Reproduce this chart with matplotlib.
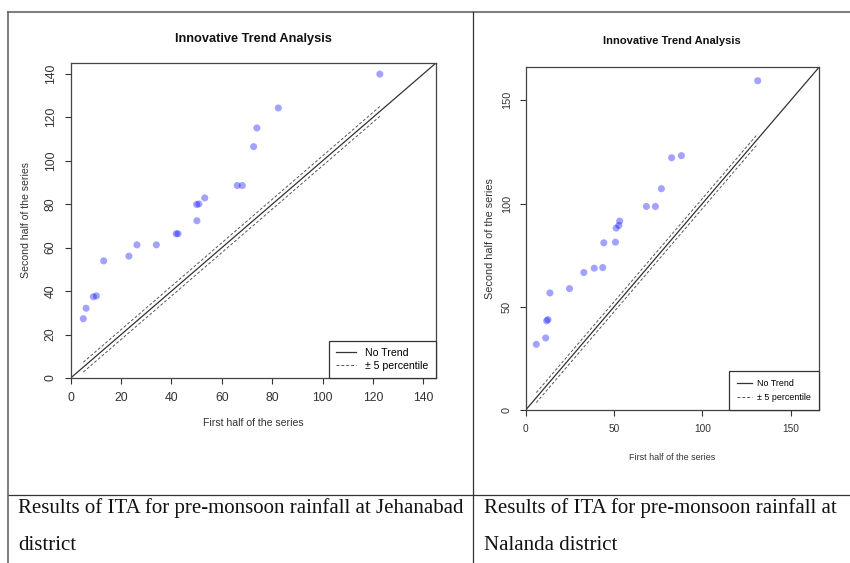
import numpy as np
import matplotlib
matplotlib.use('Agg')
import matplotlib.pyplot as plt
from matplotlib.lines import Line2D

plt.rcParams['font.family'] = ['Liberation Sans', 'DejaVu Sans']

# Jehanabad district, pre-monsoon rainfall (sorted halves)
jeh_first = [122.7, 82.4, 73.9, 72.6, 66.1, 68.1, 53.2, 50.9, 50.0, 50.1,
             41.9, 42.6, 34.0, 26.3, 23.1, 13.1, 10.2, 9.0, 6.1, 5.0]
jeh_second = [139.9, 124.3, 115.1, 106.5, 88.6, 88.6, 82.9, 80.1, 79.9, 72.4,
              66.4, 66.4, 61.3, 61.3, 56.1, 53.9, 37.8, 37.4, 32.1, 27.3]
jeh_lim = 145
jeh_ticks = [0, 20, 40, 60, 80, 100, 120, 140]

# Nalanda district
nal_first = [131.3, 88.1, 82.6, 76.8, 73.4, 68.3, 53.2, 52.7, 51.2, 50.8,
             44.2, 43.6, 38.8, 32.9, 24.8, 13.7, 12.6, 11.9, 11.3, 6.0]
nal_second = [159.5, 123.2, 122.2, 107.2, 98.6, 98.6, 91.5, 89.4, 88.1, 81.3,
              81.0, 69.0, 68.7, 66.6, 58.8, 56.7, 43.8, 43.2, 34.9, 31.8]
nal_lim = 166
nal_ticks = [0, 50, 100, 150]

title = 'Innovative Trend Analysis'
xlab = 'First half of the series'
ylab = 'Second half of the series'
captions = [['Results of ITA for pre-monsoon rainfall at Jehanabad', 'district'],
            ['Results of ITA for pre-monsoon rainfall at', 'Nalanda district']]

W, H = 850, 563
fig = plt.figure(figsize=(W/100, H/100), dpi=100)

def px(x0, y0, x1, y1):
    return [x0/W, 1-y1/H, (x1-x0)/W, (y1-y0)/H]

# fs = (xtick, ytick, title, xlabel, ylabel, legend)
def ita_panel(rect, first, second, lim, ticks, fs, title_y, xlab_y, ylab_x, leg_kw):
    ax = fig.add_axes(px(*rect))
    first = np.array(first)
    second = np.array(second)
    ax.scatter(first, second, s=26, color=(0, 0, 1, 0.36), edgecolors='none', zorder=3)
    ax.plot([0, lim], [0, lim], color='#333333', lw=0.9, label='No Trend')
    band = 0.05*first.mean()
    xs = np.array([first.min(), first.max()])
    ax.plot(xs, xs+band, color='#555555', lw=0.7, ls=(0, (3, 2)), label='\u00b1 5 percentile')
    ax.plot(xs, xs-band, color='#555555', lw=0.7, ls=(0, (3, 2)))
    ax.set_xlim(0, lim)
    ax.set_ylim(0, lim)
    ax.set_xticks(ticks)
    ax.set_yticks(ticks)
    ax.tick_params(direction='out', length=4, width=0.8, colors='#333333', pad=6)
    ax.tick_params(axis='x', labelsize=fs[0])
    ax.tick_params(axis='y', labelsize=fs[1])
    for lab in ax.get_yticklabels():
        lab.set_rotation(90)
        lab.set_va('center')
    for s in ax.spines.values():
        s.set_color('#444444')
        s.set_linewidth(0.9)
    x0, y0, x1, y1 = rect
    fig.text((x0+x1)/2/W, 1-title_y/H, title, ha='center', va='center',
             fontsize=fs[2], fontweight='bold', color='#111111')
    fig.text((x0+x1)/2/W, 1-xlab_y/H, xlab, ha='center', va='center',
             fontsize=fs[3], color='#333333')
    fig.text(ylab_x/W, 1-(y0+y1)/2/H, ylab, ha='center', va='center', rotation=90,
             fontsize=fs[4], color='#333333')
    leg = ax.legend(loc='lower right', borderaxespad=0, fancybox=False, fontsize=fs[5],
                    framealpha=1, **leg_kw)
    leg.get_frame().set_edgecolor('#333333')
    leg.get_frame().set_linewidth(0.9)
    return ax

ita_panel((70.7, 63, 436, 378), jeh_first, jeh_second, jeh_lim, jeh_ticks,
          (8.8, 8.8, 9.2, 7.6, 7.6, 7.6), 39, 423, 26,
          dict(handlelength=1.9, handletextpad=0.85, borderpad=0.7, labelspacing=0.25))
ita_panel((525.7, 67.3, 819, 410), nal_first, nal_second, nal_lim, nal_ticks,
          (7.3, 7.8, 8.0, 6.5, 7.8, 6.4), 41, 458, 490,
          dict(handlelength=1.7, handletextpad=0.6, borderpad=0.9, labelspacing=0.55))

# table frame
def hline(y, x0, x1, c='#555555', lw=1.0):
    fig.add_artist(Line2D([x0/W, x1/W], [1-y/H, 1-y/H], color=c, lw=lw, transform=fig.transFigure))

def vline(x, y0, y1, c='#555555', lw=1.0):
    fig.add_artist(Line2D([x/W, x/W], [1-y0/H, 1-y1/H], color=c, lw=lw, transform=fig.transFigure))

hline(12, 8, W, c='#808080', lw=1.5)
hline(494.5, 8, W, c='#333333', lw=0.9)
vline(8, 12, H, c='#666666', lw=1.2)
vline(473.5, 12, H, c='#333333', lw=0.9)

# captions
for cx, lines in zip([18, 484], captions):
    for ly, t in zip([508, 545], lines):
        fig.text(cx/W, 1-ly/H, t, ha='left', va='center', fontsize=15,
                 family=['Liberation Serif', 'DejaVu Serif'], color='#111111')

fig.savefig('out.png', dpi=100)
